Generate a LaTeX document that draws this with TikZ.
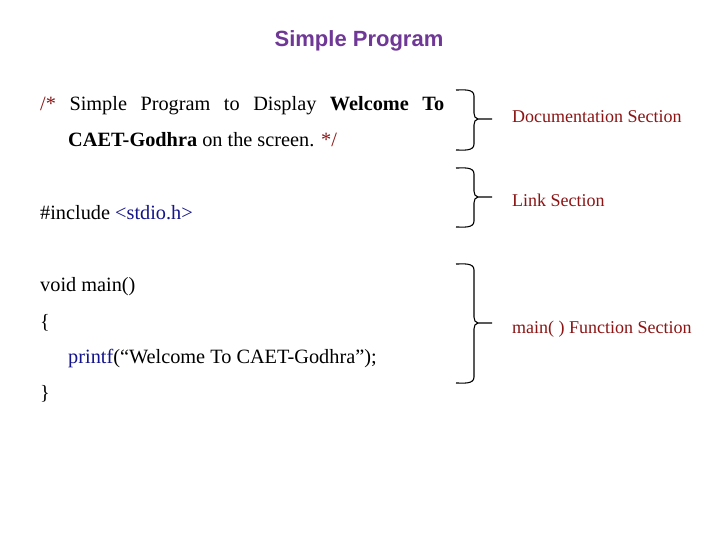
\documentclass[tikz,border=0pt]{standalone}
\usepackage{fontspec}
\setmainfont{Liberation Serif}
\newfontfamily\titlefont{Liberation Sans}
\definecolor{ttl}{RGB}{112,56,150}
\definecolor{dred}{RGB}{140,20,20}
\definecolor{dblue}{RGB}{20,20,140}
\begin{document}
\begin{tikzpicture}[x=1pt,y=-1pt,
  code/.style={anchor=base west,inner sep=0pt,font=\fontsize{20.3}{24}\selectfont},
  lbl/.style={anchor=base west,inner sep=0pt,text=dred,font=\fontsize{18}{21}\selectfont},
  brace/.style={line width=1.1pt}]
\useasboundingbox (0,0) rectangle (720,540);
\fill[white] (0,0) rectangle (720,540);
\node[anchor=base,inner sep=0pt,text=ttl,font=\titlefont\bfseries\fontsize{22}{26}\selectfont] (title) at (359,47) {Simple Program};
\node[code] (l1) at (40,111) {\makebox[404pt][s]{\textcolor{dred}{/*} Simple Program to Display \textbf{Welcome To}}};
\node[code] (l2) at (68,147) {\textbf{CAET-Godhra} on the screen. \textcolor{dred}{*/}};
\node[code] (l3) at (40,219) {\#include \textcolor{dblue}{<stdio.h>}};
\node[code] (l4) at (40,291) {void main()};
\node[code] (l5) at (40,328) {\{};
\node[code] (l6) at (68,363) {\textcolor{dblue}{printf}(“Welcome To CAET-Godhra”);};
\node[code] (l7) at (40,399) {\}};
\node[lbl] (d1) at (512,123) {Documentation Section};
\node[lbl] (d2) at (512,207) {Link Section};
\node[lbl] (d3) at (512,333) {main( ) Function Section};
\foreach \t/\m/\b/\n in {90/119/150/1,168/197/227/2,264/323/383/3}{
  \coordinate (t\n) at (492,\m);
  \draw[brace] (456,\t) to[out=0,in=90] (474,\t+6) -- (474,\m-6) to[out=-90,in=180] (478,\m) -- (t\n);
  \draw[brace] (478,\m) to[out=180,in=90] (474,\m+6) -- (474,\b-6) to[out=-90,in=0] (456,\b);
}
\end{tikzpicture}
\end{document}
